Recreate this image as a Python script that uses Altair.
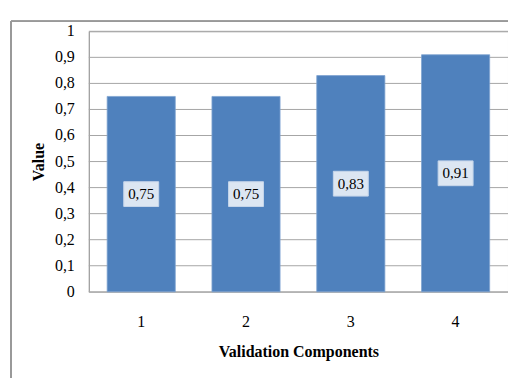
import altair as alt
import pandas as pd

categories = ["1", "2", "3", "4"]
values = [0.75, 0.75, 0.83, 0.91]
y_ticks = [0, 0.1, 0.2, 0.3, 0.4, 0.5, 0.6, 0.7, 0.8, 0.9, 1]
y_tick_labels = ["0", "0,1", "0,2", "0,3", "0,4", "0,5", "0,6", "0,7", "0,8", "0,9", "1"]

df = pd.DataFrame({"cat": categories, "value": values})
ticks_df = pd.DataFrame({"t": y_ticks, "tl": y_tick_labels})

W, H = 420, 261
SERIF = "Liberation Serif"

x_scale = alt.Scale(paddingInner=0.35, paddingOuter=0.175)
x_axis = alt.Axis(labelAngle=0, labelPadding=22, ticks=False, domain=False, titlePadding=14,
                  labelFont=SERIF, labelFontSize=16, labelColor="#000",
                  titleFont=SERIF, titleFontSize=16, titleFontWeight="bold", titleColor="#000")
y_scale = alt.Scale(domain=[0, 1], nice=False)
y_axis = alt.Axis(grid=False, labels=False, ticks=False, domain=True, domainColor="#a0a0a0",
                  titlePadding=42, titleFont=SERIF, titleFontSize=16, titleFontWeight="bold",
                  titleColor="#000")

def X(field):
    return alt.X(field, title="Validation Components", scale=x_scale, axis=x_axis)

def Y(field):
    return alt.Y(field, title="Value", scale=y_scale, axis=y_axis)

grid = alt.Chart(ticks_df).mark_rule(color="#a6a6a6", strokeWidth=1).encode(
    y=Y("t:Q"), x=alt.value(0), x2=alt.value(W))

ylabels = alt.Chart(ticks_df).mark_text(
    align="right", baseline="middle", font=SERIF, fontSize=16, color="#000"
).encode(y=Y("t:Q"), x=alt.value(-14), text="tl:N")

mid = alt.Chart(df).transform_calculate(
    mid="datum.value / 2",
    lab="replace(format(datum.value, '.2f'), '.', ',')",
)

bars = alt.Chart(df).mark_bar(color="#4F81BD", stroke="#7fa3d0", strokeWidth=0.8).encode(
    x=X("cat:N"), y=Y("value:Q"))

boxes = mid.mark_point(
    shape="M-1,-0.71L1,-0.71L1,0.71L-1,0.71Z", size=35 * 35, filled=True,
    fill="#dce6f2", stroke="#c5d5ea", strokeWidth=1, opacity=1,
).encode(x=X("cat:N"), y=Y("mid:Q"))

texts = mid.mark_text(font=SERIF, fontSize=15, color="#000").encode(
    x=X("cat:N"), y=Y("mid:Q"), text="lab:N")

frame_left = alt.Chart(df).mark_rule(color="#999999", strokeWidth=1.5).encode(
    x=alt.value(-78), y=alt.value(-10), y2=alt.value(H + 90))
frame_top = alt.Chart(df).mark_rule(color="#999999", strokeWidth=1.5).encode(
    x=alt.value(-78), x2=alt.value(W + 10), y=alt.value(-10))

chart = alt.layer(grid, ylabels, bars, boxes, texts, frame_left, frame_top).properties(
    width=W, height=H, background="white",
    autosize=alt.AutoSizeParams(type="none"),
    padding={"left": 89, "top": 31, "right": 0, "bottom": 86},
).configure_view(stroke="#a6a6a6", strokeWidth=1)

chart.save("out.html", embed_options={"renderer": "svg", "actions": False})
